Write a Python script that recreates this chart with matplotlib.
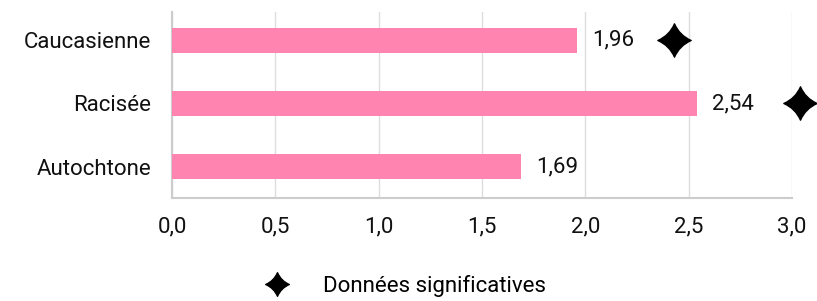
import matplotlib
matplotlib.use("Agg")
import matplotlib.pyplot as plt
import matplotlib.transforms as mtransforms
from matplotlib.path import Path
from matplotlib.lines import Line2D

categories = ["Caucasienne", "Racisée", "Autochtone"]
values = [1.96, 2.54, 1.69]
significant = [True, True, False]
value_labels = ["1,96", "2,54", "1,69"]
xticks = [0.0, 0.5, 1.0, 1.5, 2.0, 2.5, 3.0]
xtick_labels = ["0,0", "0,5", "1,0", "1,5", "2,0", "2,5", "3,0"]
legend_label = "Données significatives"

plt.rcParams['font.family'] = ['Roboto', 'DejaVu Sans']
FS = 16

# 4-pointed star with concave sides
c = 0.3
verts = [(0, 1), (c, c), (1, 0), (c, -c), (0, -1), (-c, -c), (-1, 0), (-c, c), (0, 1), (0, 0)]
codes = [Path.MOVETO, Path.CURVE3, Path.CURVE3, Path.CURVE3, Path.CURVE3,
         Path.CURVE3, Path.CURVE3, Path.CURVE3, Path.CURVE3, Path.CLOSEPOLY]
star = Path(verts, codes)

fig = plt.figure(figsize=(8.17, 3.01), dpi=100)
ax = fig.add_axes([0.2105, 0.342, 0.7589, 0.618])

y = list(range(len(categories)))
ax.barh(y, values, height=0.4, color="#ff85b0", zorder=3)
ax.set_ylim(2.5, -0.45)
ax.set_xlim(0, 3.0)
ax.set_yticks(y)
ax.set_yticklabels(categories, fontsize=FS, color="#111111")
ax.set_xticks(xticks)
ax.set_xticklabels(xtick_labels, fontsize=FS, color="#111111")
ax.tick_params(axis='y', length=0, pad=15)
ax.tick_params(axis='x', length=0, pad=13)
ax.xaxis.grid(True, color="#dddddd", linewidth=1, zorder=0)
for s in ["top", "right"]:
    ax.spines[s].set_visible(False)
for s in ["left", "bottom"]:
    ax.spines[s].set_color("#cccccc")
    ax.spines[s].set_linewidth(1.5)

star_offsets = [70, 74, 0]
for yi, v, lab, sig, so in zip(y, values, value_labels, significant, star_offsets):
    ax.annotate(lab, (v, yi), xytext=(11, 0), textcoords="offset points",
                va="center", ha="left", fontsize=FS, color="#111111")
    if sig:
        ax.plot([v], [yi], marker=star, markersize=24, color="black", linestyle="none",
                transform=ax.transData + mtransforms.ScaledTranslation(so/72, 0, fig.dpi_scale_trans),
                clip_on=False, zorder=5)

handle = Line2D([], [], marker=star, markersize=17, color="black", linestyle="none")
fig.legend([handle], [legend_label], loc="center", bbox_to_anchor=(0.49, 0.05),
           frameon=False, fontsize=FS, handletextpad=1.1)

fig.savefig("out.png", dpi=100)
